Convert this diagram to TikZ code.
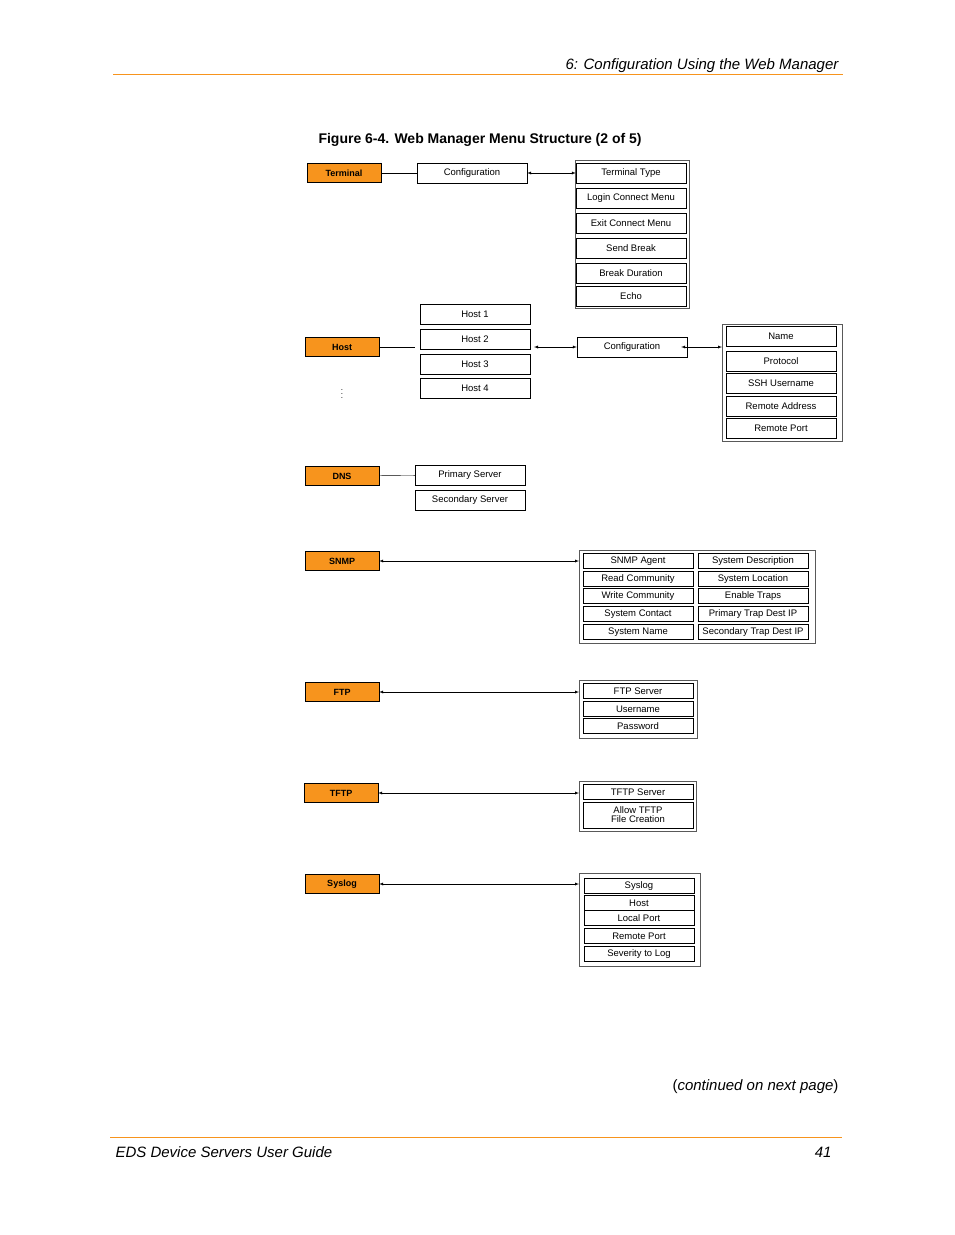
\documentclass[tikz,border=0pt]{standalone}
\usepackage{fontspec}
\setmainfont{Liberation Sans}
\definecolor{lantronix}{RGB}{247,148,29}
\begin{document}
\begin{tikzpicture}[x=1pt,y=-1pt]
        \tikzstyle{menuNode}=[draw,fill=lantronix,minimum width=74pt,minimum height=19pt,inner sep=0pt,font=\fontsize{9}{10}\selectfont\bfseries]
        \tikzstyle{itemNode}=[draw,minimum width=110pt,minimum height=20pt,inner sep=0pt,font=\fontsize{9.5}{11}\selectfont]
        \tikzstyle{smallItem}=[itemNode,minimum height=15pt]
        \tikzstyle{groupFrame}=[draw,gray!70!black,thick]
        \tikzstyle{linkArrow}=[latex-latex]
    \useasboundingbox (0,0) rectangle (954,1235);
    \node[anchor=base east,font=\fontsize{15}{18}\selectfont\itshape] (head) at (842,69) {6: Configuration Using the Web Manager};
    \draw[lantronix] (113,74) -- (843,74);
    \node[anchor=base west,font=\fontsize{14}{16}\selectfont\bfseries] (title) at (315,143) {Figure 6-4. Web Manager Menu Structure (2 of 5)};

    % terminal
    \draw[groupFrame] (575,160) rectangle (689,308);
    \node[menuNode] (term) at (344,173) {Terminal};
    \node[itemNode] (tconf) at (472,173) {Configuration};
    \node[itemNode] (t1) at (631,173) {Terminal Type};
    \node[itemNode] (t2) at (631,198) {Login Connect Menu};
    \node[itemNode] (t3) at (631,223) {Exit Connect Menu};
    \node[itemNode] (t4) at (631,248) {Send Break};
    \node[itemNode] (t5) at (631,273) {Break Duration};
    \node[itemNode,thick] (t6) at (631,296) {Echo};
    \draw (term) -- (tconf);
    \draw[linkArrow] (tconf) -- (t1);

    % host
    \node[menuNode] (host) at (342,347) {Host};
    \node[itemNode] (h1) at (475,314) {Host 1};
    \node[itemNode] (h2) at (475,339) {Host 2};
    \node[itemNode] (h3) at (475,364) {Host 3};
    \node[itemNode,thick] (h4) at (475,388) {Host 4};
    \coordinate (hl) at (415,347);
    \coordinate (hr) at (534,347);
    \draw (host) -- (hl);
    \node (dots) at (342,394) {\fontsize{8}{15}\selectfont\shortstack{.\\.\\.}};
    \node[itemNode] (hconf) at (632,347) {Configuration};
    \draw[groupFrame] (722,324) rectangle (842,441);
    \node[itemNode,thick] (n1) at (781,336) {Name};
    \node[itemNode,thick] (n2) at (781,361) {Protocol};
    \node[itemNode,thick] (n3) at (781,383) {SSH Username};
    \node[itemNode,thick] (n4) at (781,406) {Remote Address};
    \node[itemNode,thick] (n5) at (781,428) {Remote Port};
    \draw[linkArrow] (hr) -- (hconf);
    \draw[linkArrow] ([xshift=-6pt]hconf.east) -- (722,347);

    % dns
    \node[menuNode] (dns) at (342,476) {DNS};
    \node[itemNode] (d1) at (470,475) {Primary Server};
    \node[itemNode] (d2) at (470,500) {Secondary Server};
    \draw (dns) -- (d1);

    % snmp
    \node[menuNode] (snmp) at (342,561) {SNMP};
    \draw[groupFrame] (579,550) rectangle (815,643);
    \node[smallItem] (s1) at (638,561) {SNMP Agent};
    \node[smallItem] (s2) at (638,579) {Read Community};
    \node[smallItem] (s3) at (638,596) {Write Community};
    \node[smallItem] (s4) at (638,614) {System Contact};
    \node[smallItem] (s5) at (638,632) {System Name};
    \node[smallItem] (s6) at (753,561) {System Description};
    \node[smallItem] (s7) at (753,579) {System Location};
    \node[smallItem] (s8) at (753,596) {Enable Traps};
    \node[smallItem] (s9) at (753,614) {Primary Trap Dest IP};
    \node[smallItem] (s10) at (753,632) {Secondary Trap Dest IP};
    \draw[linkArrow] (snmp) -- (579,561);

    % ftp
    \node[menuNode] (ftp) at (342,692) {FTP};
    \draw[groupFrame] (579,680) rectangle (697,738);
    \node[smallItem] (f1) at (638,691) {FTP Server};
    \node[smallItem] (f2) at (638,709) {Username};
    \node[smallItem] (f3) at (638,726) {Password};
    \draw[linkArrow] (ftp) -- (579,692);

    % tftp
    \node[menuNode] (tftp) at (341,793) {TFTP};
    \draw[groupFrame] (579,781) rectangle (696,831);
    \node[smallItem] (tf1) at (638,792) {TFTP Server};
    \node[smallItem,minimum height=26pt,align=center] (tf2) at (638,815) {Allow TFTP\\[-2pt]File Creation};
    \draw[linkArrow] (tftp) -- (579,793);

    % syslog
    \node[menuNode] (sys) at (342,884) {Syslog};
    \draw[groupFrame] (579,873) rectangle (700,966);
    \node[smallItem] (y1) at (639,886) {Syslog};
    \node[smallItem] (y2) at (639,903) {Host};
    \node[smallItem] (y3) at (639,918) {Local Port};
    \node[smallItem] (y4) at (639,936) {Remote Port};
    \node[smallItem] (y5) at (639,954) {Severity to Log};
    \draw[linkArrow] (sys) -- (579,884);

    \node[anchor=base east,font=\fontsize{15}{18}\selectfont] (cont) at (842,1090) {(\textit{continued on next page})};
    \draw[lantronix,thick] (110,1137) -- (842,1137);
    \node[anchor=base west,font=\fontsize{15}{18}\selectfont\itshape] (foot) at (112,1157) {EDS Device Servers User Guide};
    \node[anchor=base east,font=\fontsize{15}{18}\selectfont\itshape] (page) at (835,1157) {41};
\end{tikzpicture}
\end{document}
